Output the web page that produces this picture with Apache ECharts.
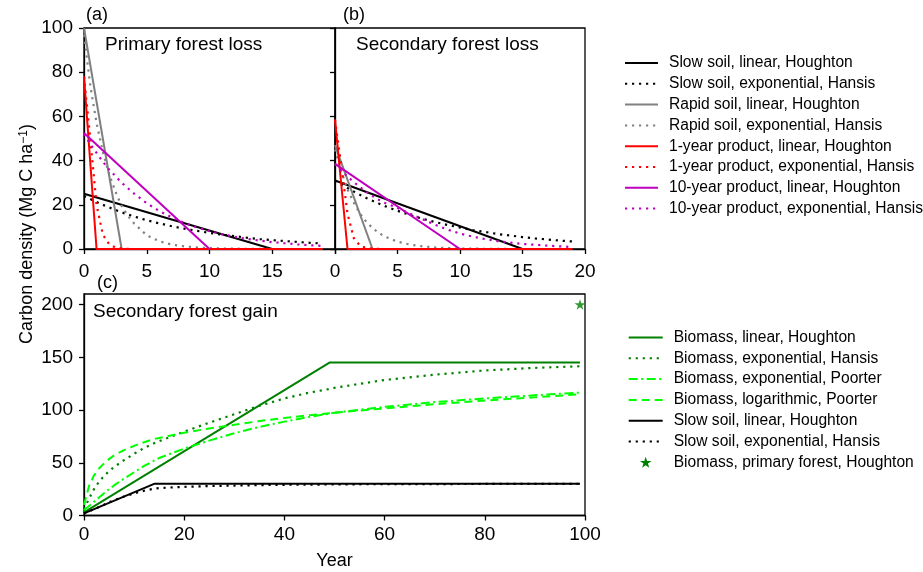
<!DOCTYPE html>
<html>
<head>
<meta charset="utf-8">
<script src="https://cdn.jsdelivr.net/npm/echarts@6.0.0/dist/echarts.min.js"></script>
<style>
html,body{margin:0;padding:0;background:#fff;}
#chart{width:923px;height:572px;}
</style>
</head>
<body>
<div id="chart"></div>
<script>
// ---------- Data ----------
// Panels (a) and (b): carbon remaining after forest loss (years 0-19)
const tLoss = [0,0.5,1,1.5,2,2.5,3,3.5,4,5,6,7,8,9,10,11,12,13,14,15,16,17,18,19];

// Panel (a) Primary forest loss
const slowLinA_x = [0,15];      const slowLinA_y = [25,0];
const rapidLinA_x = [0,3];      const rapidLinA_y = [100,0];
const prod1LinA_x = [0,1,19];   const prod1LinA_y = [78,0,0];
const prod10LinA_x = [0,10];    const prod10LinA_y = [52.5,0];
const slowExpA  = [24,22.6,21.3,20,18.8,17.7,16.6,15.6,14.7,13,11.6,10.3,9.2,8.2,7.3,6.5,5.8,5.1,4.5,4,3.6,3.2,2.8,2.5];
const rapidExpA = [97,74,57,44,34,26,19.5,15,11.5,6.2,3.5,2,1.2,0.7,0.4,0.25,0.15,0.08,0.05,0,0,0,0,0];
const prod1ExpA = [78,50,20,6.5,2.2,0.7,0.25,0.08,0,0,0,0,0,0,0,0,0,0,0,0,0,0,0,0];
const prod10ExpA= [52,47.5,43.5,39.5,36,33,30,27.5,25,20.7,17.2,14.3,11.8,9.8,8.1,6.7,5.5,4.6,3.8,3.1,2.6,2.1,1.7,1.4];

// Panel (b) Secondary forest loss
const slowLinB_x = [0,15];      const slowLinB_y = [31,0];
const rapidLinB_x = [0,3];      const rapidLinB_y = [47,0];
const prod1LinB_x = [0,1,19];   const prod1LinB_y = [58.5,0,0];
const prod10LinB_x = [0,10];    const prod10LinB_y = [38.5,0];
const slowExpB  = [31,29.3,27.6,26,24.5,23.1,21.8,20.6,19.4,17.3,15.4,13.7,12.2,10.9,9.7,8.6,7.7,6.8,6.1,5.4,4.8,4.3,3.8,3.4];
const rapidExpB = [45,35,27,21,16,12.3,9.5,7.3,5.6,3.3,2,1.2,0.7,0.4,0.25,0.15,0.1,0.05,0,0,0,0,0,0];
const prod1ExpB = [58.5,38,16,5,1.5,0.5,0.15,0.05,0,0,0,0,0,0,0,0,0,0,0,0,0,0,0,0];
const prod10ExpB= [38.5,35.5,32.8,30.3,28,25.9,24,22.3,20.8,18.6,16,13.5,11,8.8,7,5.6,4.5,3.6,2.9,2.3,1.9,1.5,1.2,0.9];

// Panel (c) Secondary forest gain (years 0-99)
const tGain = [0,1,2,3,4,5,6,8,10,12,14,15,20,25,30,35,40,45,49,50,60,70,80,90,99];
const bioLin_x = [0,49,99];     const bioLin_y = [2.9,145,145];
const soilLin_x = [0,14,99];    const soilLin_y = [2,30,30];
const bioExpHansis   = [6,16,25,32,37.5,42,46,52.5,58.5,64,68.5,70.5,79.5,88,96,104,111,116.5,120,121,128.5,133.5,137.5,140,141.5];
const bioExpPoorter  = [5,9,13,17,21,25,28.5,35,41,47,52,54.5,63.5,71,78,84,89,93.5,96.5,97.5,103,107.5,111,114,116.5];
const bioLogPoorter  = [10,28,38,44.5,49.5,53.5,57,62,66,69.5,72.5,73.5,78.5,82.5,86,89.5,92.5,95,97,97.5,101.5,105.5,109,112,115];
const soilExpHansis  = [2,4,6,8,10.3,12.5,14.5,18,21,23.5,25.5,26,27.2,27.9,28.4,28.8,29.1,29.3,29.4,29.5,29.7,29.8,29.9,30,30];
const primaryBio = [[99,200]];

// Tick labels / names
const lossXTicks = [0,5,10,15,20];
const gainYTicks = [0,50,100,150,200];
const lossNames = ['Slow soil, linear, Houghton','Slow soil, exponential, Hansis','Rapid soil, linear, Houghton','Rapid soil, exponential, Hansis','1-year product, linear, Houghton','1-year product, exponential, Hansis','10-year product, linear, Houghton','10-year product, exponential, Hansis'];
const gainNames = ['Biomass, linear, Houghton','Biomass, exponential, Hansis','Biomass, exponential, Poorter','Biomass, logarithmic, Poorter','Slow soil, linear, Houghton','Slow soil, exponential, Hansis','Biomass, primary forest, Houghton'];

// ---------- Styles ----------
const FONT = "'Liberation Sans', Arial, sans-serif";
const DOT = [2.2,4.8], DASH = [8,5], DASHDOT = [9,3.5,2,3.5];
const C = {black:'#000000', gray:'#808080', red:'#ff0000', mag:'#bf00bf', green:'#008000', lime:'#00ff00'};
const STAR = 'path://M50,0 L61.8,35.3 L98.8,35.3 L68.8,57.1 L80.3,92.7 L50,70.6 L19.7,92.7 L31.2,57.1 L1.2,35.3 L38.2,35.3 Z';

function pairs(xs, ys){ return xs.map((x,i)=>[x, ys[i]]); }
function line(name, data, color, type, g){
  const dotted = Array.isArray(type) && type.length === 2 && type[0] < 3;
  return {type:'line', name, xAxisIndex:g, yAxisIndex:g, data, symbol:'none', clip:false,
    animation:false, lineStyle:{color, width: dotted ? 2.2 : 2, type, cap:'butt'}, itemStyle:{color}, emphasis:{disabled:true}};
}

const series = [];
const panels = [
  {g:0, sl:[slowLinA_x,slowLinA_y], se:slowExpA, rl:[rapidLinA_x,rapidLinA_y], re:rapidExpA, pl:[prod1LinA_x,prod1LinA_y], pe:prod1ExpA, ml:[prod10LinA_x,prod10LinA_y], me:prod10ExpA},
  {g:1, sl:[slowLinB_x,slowLinB_y], se:slowExpB, rl:[rapidLinB_x,rapidLinB_y], re:rapidExpB, pl:[prod1LinB_x,prod1LinB_y], pe:prod1ExpB, ml:[prod10LinB_x,prod10LinB_y], me:prod10ExpB}
];
panels.forEach(p=>{
  series.push(line(lossNames[0], pairs(p.sl[0],p.sl[1]), C.black, 'solid', p.g));
  series.push(line(lossNames[1], pairs(tLoss,p.se), C.black, DOT, p.g));
  series.push(line(lossNames[2], pairs(p.rl[0],p.rl[1]), C.gray, 'solid', p.g));
  series.push(line(lossNames[3], pairs(tLoss,p.re), C.gray, DOT, p.g));
  series.push(line(lossNames[4], pairs(p.pl[0],p.pl[1]), C.red, 'solid', p.g));
  series.push(line(lossNames[5], pairs(tLoss,p.pe), C.red, DOT, p.g));
  series.push(line(lossNames[6], pairs(p.ml[0],p.ml[1]), C.mag, 'solid', p.g));
  series.push(line(lossNames[7], pairs(tLoss,p.me), C.mag, DOT, p.g));
});
series.push(line(gainNames[0], pairs(bioLin_x,bioLin_y), C.green, 'solid', 2));
series.push(line(gainNames[1], pairs(tGain,bioExpHansis), C.green, DOT, 2));
series.push(line(gainNames[2], pairs(tGain,bioExpPoorter), C.lime, DASHDOT, 2));
series.push(line(gainNames[3], pairs(tGain,bioLogPoorter), C.lime, DASH, 2));
series.push(line(gainNames[4], pairs(soilLin_x,soilLin_y), C.black, 'solid', 2));
series.push(line(gainNames[5], pairs(tGain,soilExpHansis), C.black, DOT, 2));
series.push({type:'scatter', name:gainNames[6], xAxisIndex:2, yAxisIndex:2, data:primaryBio,
  symbol:STAR, symbolSize:11, symbolKeepAspect:true, itemStyle:{color:C.green}, animation:false, clip:false});

const axisCommon = {
  type:'value',
  axisLine:{show:true, onZero:false, lineStyle:{color:'#000', width:1.3}},
  axisTick:{show:true, inside:false, length:5, lineStyle:{color:'#000', width:1.3}},
  axisLabel:{color:'#000', fontSize:19, fontFamily:FONT, margin:10},
  splitLine:{show:false}
};
function ax(extra){ return echarts.util.merge(echarts.util.clone(axisCommon), extra, true); }

const gridStyle = {show:true, borderColor:'#000', borderWidth:1.3, backgroundColor:'#fff', containLabel:false};

const legendCommon = {orient:'vertical', padding:0, itemGap:4.8, selectedMode:false,
  itemStyle:{opacity:0},
  textStyle:{fontSize:15.6, fontFamily:FONT, color:'#000', lineHeight:15, padding:[0,0,0,6]}};

const option = {
  backgroundColor:'#fff',
  animation:false,
  textStyle:{fontFamily:FONT},
  grid:[
    Object.assign({left:84, top:28, width:251, height:221}, gridStyle),
    Object.assign({left:335, top:28, width:250, height:221}, gridStyle),
    Object.assign({left:84, top:294, width:501, height:221.5}, gridStyle)
  ],
  xAxis:[
    ax({gridIndex:0, min:0, max:20, interval:5, axisLabel:{customValues:[0,5,10,15], margin:13}, axisTick:{customValues:lossXTicks}}),
    ax({gridIndex:1, min:0, max:20, interval:5, axisLabel:{customValues:lossXTicks, margin:13}, axisTick:{customValues:lossXTicks}}),
    ax({gridIndex:2, min:0, max:100, interval:20, axisLabel:{margin:10}, name:'Year', nameLocation:'middle', nameGap:37,
        nameTextStyle:{color:'#000', fontSize:18, fontFamily:FONT}})
  ],
  yAxis:[
    ax({gridIndex:0, min:0, max:100, interval:20, axisLabel:{margin:11}}),
    ax({gridIndex:1, min:0, max:100, interval:20, axisLabel:{show:false}}),
    ax({gridIndex:2, min:0, max:210, interval:50, axisLabel:{customValues:gainYTicks, margin:11}, axisTick:{customValues:gainYTicks}})
  ],
  legend:[
    Object.assign({data:lossNames, left:624, top:55, itemWidth:33, itemHeight:14}, legendCommon),
    Object.assign({data:gainNames.map(n => n === gainNames[6] ? {name:n, itemStyle:{opacity:1}} : n),
      left:627.7, top:329.5, itemWidth:34, itemHeight:11}, legendCommon)
  ],
  graphic:[
    {type:'text', left:86, top:6, style:{text:'(a)', fontSize:18, fontFamily:FONT, fill:'#000'}},
    {type:'text', left:343, top:6, style:{text:'(b)', fontSize:18, fontFamily:FONT, fill:'#000'}},
    {type:'text', left:97, top:274, style:{text:'(c)', fontSize:18, fontFamily:FONT, fill:'#000'}},
    {type:'text', left:105, top:35, style:{text:'Primary forest loss', fontSize:19, fontFamily:FONT, fill:'#000'}},
    {type:'text', left:356, top:35, style:{text:'Secondary forest loss', fontSize:19, fontFamily:FONT, fill:'#000'}},
    {type:'text', left:93, top:302, style:{text:'Secondary forest gain', fontSize:19, fontFamily:FONT, fill:'#000'}},
    {type:'text', x:27, y:234, rotation:Math.PI/2,
     style:{text:'Carbon density (Mg C ha{sup|−1})', fontSize:18, fontFamily:FONT, fill:'#000',
       align:'center', verticalAlign:'middle',
       rich:{sup:{fontSize:12, fontFamily:FONT, verticalAlign:'top', fill:'#000'}}}}
  ],
  series
};

const chart = echarts.init(document.getElementById('chart'), null, {renderer:'canvas'});
chart.setOption(option);
</script>
</body>
</html>
